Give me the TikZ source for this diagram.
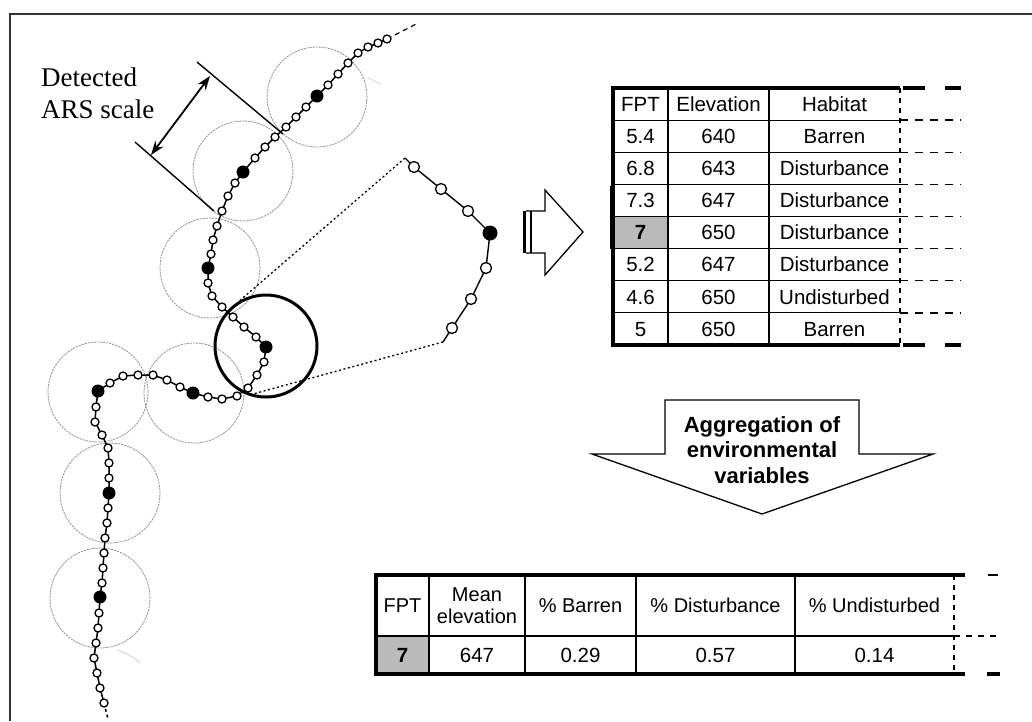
\documentclass[tikz,border=0pt]{standalone}
\usepackage{fontspec}
\setmainfont{Liberation Sans}
\newfontfamily\labelserif{Liberation Serif}
\usetikzlibrary{arrows.meta}

% track fixes: x/y/kind (o = open, f = filled ARS centre)
\def\tracklist{104/703/o, 100/688/o, 97/673/o, 94/658/o, 96/643/o, 98/628/o, 99/613/o,
 100/597/f, 102/583/o, 103/568/o, 104/553/o, 105/538/o, 107/523/o, 108/508/o,
 109/493/f, 109/478/o, 109/463/o, 108/448/o, 102/435/o, 95/422/o, 96/407/o,
 98/391/f, 110/383/o, 123/376/o, 138/375/o, 153/375/o, 167/380/o, 180/387/o,
 193/393/f, 208/397/o, 222/399/o, 237/396/o, 248/388/o, 257/375/o, 264/362/o,
 266/347/f, 256/337/o, 244/327/o, 233/317/o, 222/307/o, 212/296/o, 208/283/o,
 208/268/f, 211/254/o, 213/240/o, 217/226/o, 222/211/o, 228/196/o, 235/183/o,
 243/172/f, 255/158/o, 265/147/o, 275/137/o, 286/127/o, 296/117/o, 306/107/o,
 317/96/f, 328/85/o, 338/74/o, 348/63/o, 358/53/o, 368/47/o, 378/43/o, 387/39/o}
% enlarged detail of the focal scale
\def\insetlist{414/167/o, 441/189/o, 468/211/o, 490/233/f, 486/268/o, 471/299/o, 452/328/o}

\begin{document}
\begin{tikzpicture}[x=1pt,y=-1pt,
  outerframe/.style={draw=black!80,line width=2pt},
  ring/.style={circle,inner sep=0pt,minimum size=100pt,draw=black!42,line width=0.8pt,dash pattern=on 2.2pt off 0.9pt},
  focusring/.style={circle,inner sep=0pt,minimum size=102pt,draw=black,line width=3pt},
  trackline/.style={draw=black,line width=1.5pt},
  zoomline/.style={draw=black,line width=1.3pt,dash pattern=on 2pt off 2.6pt},
  fixo/.style={circle,inner sep=0pt,minimum size=8pt,draw=black,fill=white,line width=1.3pt},
  fixf/.style={circle,inner sep=0pt,minimum size=13pt,fill=black},
  bigo/.style={circle,inner sep=0pt,minimum size=11pt,draw=black,fill=white,line width=1.3pt},
  bigf/.style={circle,inner sep=0pt,minimum size=15pt,fill=black},
  tickline/.style={draw=black,line width=1.4pt},
  scalearrow/.style={draw=black,line width=1.8pt,{Stealth[length=14pt,width=10pt]}-{Stealth[length=14pt,width=10pt]}},
  blockarrow/.style={draw=black,line width=1.3pt,fill=white,line join=miter},
  gridline/.style={draw=black,line width=1.2pt},
  tableborder/.style={draw=black,line width=3.6pt},
  edgedash/.style={draw=black,line width=1.5pt,dash pattern=on 5pt off 5pt},
  extdash/.style={draw=black,line width=1.4pt,dash pattern=on 8pt off 7pt},
  cellshade/.style={fill=black!27},
  tabtext/.style={inner sep=0pt,anchor=center,text height=14.6pt,text depth=0pt,font=\fontsize{20.5}{22}\selectfont},
  tabhead/.style={inner sep=0pt,anchor=center,align=center,font=\fontsize{20}{21.5}\selectfont},
  serifnote/.style={inner sep=0pt,anchor=base west,font=\labelserif\fontsize{27}{32}\selectfont},
  aggnote/.style={inner sep=0pt,align=center,font=\bfseries\fontsize{22}{25.5}\selectfont}
]
\useasboundingbox (0,0) rectangle (1032,721);
\fill[white] (0,0) rectangle (1032,721);

% page frame
\draw[outerframe] (1032,14) -- (10,14) -- (10,721);

% ARS circles along the path
\foreach \x/\y [count=\i] in {317/97, 243/171, 210/268, 98/392, 194/393, 110/493, 100/598}
  \node[ring] (ring\i) at (\x,\y) {};
% faint smudges
\draw[black!14,line width=1.2pt] (117,650) to[bend left=12] (140,663);
\draw[black!14,line width=1pt] (368,78) -- (381,84);

% focal scale
\node[focusring] (focus) at (266,346) {};

% dotted rays to the enlarged detail
\coordinate (insetA) at (405,158);
\coordinate (insetB) at (443,342);
\draw[zoomline] (insetA) -- (focus.120);
\draw[zoomline] (insetB) -- (focus.250);

% movement path
\foreach \x/\y/\k [count=\i] in \tracklist {\coordinate (p\i) at (\x,\y);}
\draw[trackline] (p1) \foreach \i in {2,...,64} {-- (p\i)};
\coordinate (trackbot) at (108,719);
\coordinate (tracktop) at (418,23);
\draw[trackline,dash pattern=on 3pt off 3pt] (p1) -- (trackbot);
\draw[black,line width=1.2pt,dash pattern=on 5pt off 4pt] (p64) -- (tracktop);
\foreach \x/\y/\k [count=\i] in \tracklist {\node[fix\k] (d\i) at (p\i) {};}

% enlarged detail
\foreach \x/\y/\k [count=\i] in \insetlist {\coordinate (q\i) at (\x,\y);}
\draw[trackline,line width=1.4pt] (insetA) \foreach \i in {1,...,7} {-- (q\i)} -- (insetB);
\foreach \x/\y/\k [count=\i] in \insetlist {\node[big\k] (e\i) at (q\i) {};}

% detected scale marker
\coordinate (tickA1) at (197,62);
\coordinate (tickA2) at (283,134);
\coordinate (tickB1) at (135,142);
\coordinate (tickB2) at (214,211);
\coordinate (arrA) at (210,76);
\coordinate (arrB) at (151,155);
\draw[tickline] (tickA1) -- (tickA2);
\draw[tickline] (tickB1) -- (tickB2);
\draw[scalearrow] (arrA) -- (arrB);
\node[serifnote] (lbl1) at (41,86) {Detected};
\node[serifnote] (lbl2) at (41,118) {ARS scale};

% striped arrow towards the table
\fill[black] (522.5,211) rectangle (526.5,253);
\draw[blockarrow] (526,211) -- (545,211) -- (545,190) -- (583,232) -- (545,275) -- (545,253) -- (526,253);
\draw[black,line width=1.2pt] (531,211) -- (531,253);

% fixes table
\fill[cellshade] (613,216.5) rectangle (668,248.6);
\foreach \r in {1,...,7} \draw[gridline] (613,{88+\r*32.125}) -- (900,{88+\r*32.125});
\draw[gridline] (668,88) -- (668,345);
\draw[gridline] (769,88) -- (769,345);
\draw[edgedash] (900,88) -- (900,345);
\foreach \r in {1,...,7} \draw[extdash] (900,{88+\r*32.125}) -- (961,{88+\r*32.125});
\draw[tableborder] (900,88) -- (613,88) -- (613,345) -- (900,345);
\draw[tableborder,line width=2pt] (610.5,186) -- (610.5,249);
\draw[tableborder] (903,88) -- (925,88);
\draw[tableborder] (945,88) -- (961,88);
\draw[tableborder] (903,345) -- (925,345);
\draw[tableborder] (945,345) -- (961,345);

\node[tabtext] (hfpt) at (640.5,104.06) {FPT};
\node[tabtext] (helev) at (718.5,104.06) {Elevation};
\node[tabtext] (hhab) at (834.5,104.06) {Habitat};
\foreach \a/\b/\c [count=\r] in {5.4/640/Barren, 6.8/643/Disturbance, 7.3/647/Disturbance,
    \textbf{7}/650/Disturbance, 5.2/647/Disturbance, 4.6/650/Undisturbed, 5/650/Barren} {
  \node[tabtext] (fpt\r) at (640.5,{88+(\r+0.5)*32.125}) {\a};
  \node[tabtext] (elev\r) at (718.5,{88+(\r+0.5)*32.125}) {\b};
  \node[tabtext] (hab\r) at (834.5,{88+(\r+0.5)*32.125}) {\c};
}

% aggregation arrow
\draw[blockarrow] (665,400) -- (859,400) -- (859,454) -- (933,454) -- (762,514)
  -- (592,454) -- (665,454) -- cycle;
\node[aggnote] (agg) at (762,450) {Aggregation of\\environmental\\variables};

% aggregated table
\fill[cellshade] (376,636) rectangle (429,674);
\draw[gridline] (376,636) -- (954,636);
\foreach \x in {429,525,636,795} \draw[gridline] (\x,575) -- (\x,674);
\draw[edgedash] (954,575) -- (954,674);
\draw[extdash,dash pattern=on 6pt off 6pt] (954,636) -- (1000,636);
\draw[tableborder] (965,575) -- (376,575) -- (376,674) -- (965,674);
\draw[tableborder,line width=2.5pt] (988,575) -- (998,575);
\draw[tableborder] (987,674) -- (1000,674);

\node[tabhead] (afpt) at (402.5,605.5) {FPT};
\node[tabhead] (amean) at (477,605.5) {Mean\\elevation};
\node[tabhead] (abar) at (580.5,605.5) {\% Barren};
\node[tabhead] (adis) at (715.5,605.5) {\% Disturbance};
\node[tabhead] (aund) at (874.5,605.5) {\% Undisturbed};
\node[tabtext] (vfpt) at (402.5,655) {\textbf{7}};
\node[tabtext] (vmean) at (477,655) {647};
\node[tabtext] (vbar) at (580.5,655) {0.29};
\node[tabtext] (vdis) at (715.5,655) {0.57};
\node[tabtext] (vund) at (874.5,655) {0.14};
\end{tikzpicture}
\end{document}
